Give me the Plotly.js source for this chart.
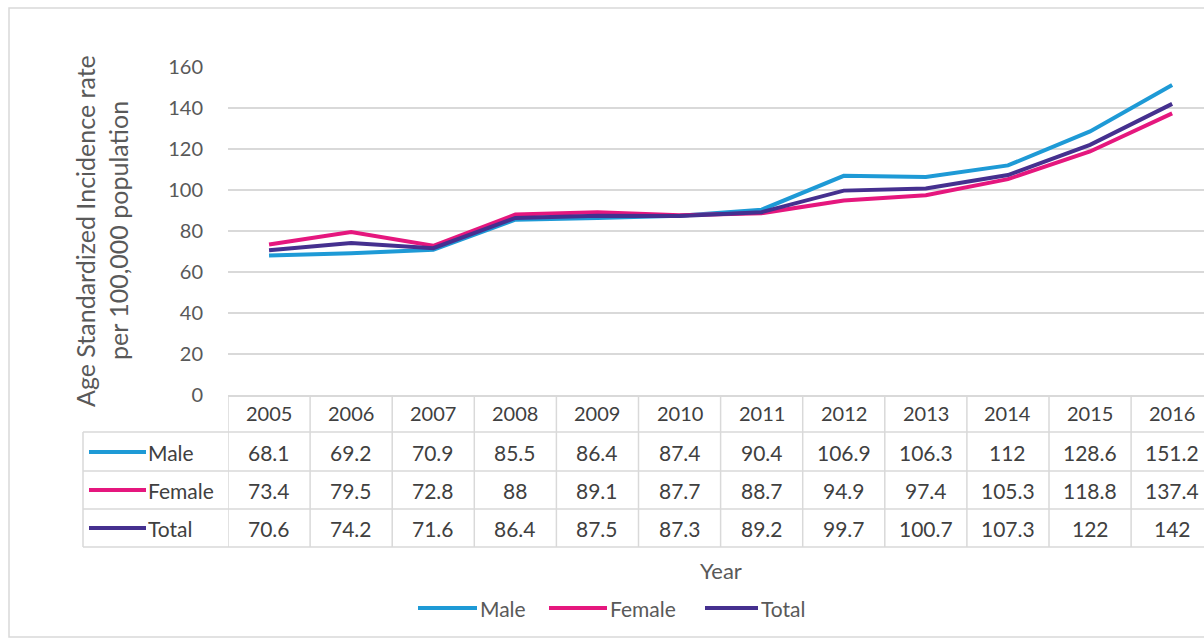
<!DOCTYPE html>
<html>
<head>
<meta charset="utf-8">
<script src="https://cdn.plot.ly/plotly-3.0.1.min.js"></script>
<style>html,body{margin:0;padding:0;background:#fff;}#chart{width:1204px;height:640px;}</style>
</head>
<body>
<div id="chart"></div>
<script>
const years = ["2005","2006","2007","2008","2009","2010","2011","2012","2013","2014","2015","2016"];
const male = [68.1, 69.2, 70.9, 85.5, 86.4, 87.4, 90.4, 106.9, 106.3, 112, 128.6, 151.2];
const female = [73.4, 79.5, 72.8, 88, 89.1, 87.7, 88.7, 94.9, 97.4, 105.3, 118.8, 137.4];
const total = [70.6, 74.2, 71.6, 86.4, 87.5, 87.3, 89.2, 99.7, 100.7, 107.3, 122, 142];
const seriesNames = ["Male", "Female", "Total"];
const seriesColors = ["#1E9AD6", "#E5177E", "#45308F"];
const seriesValues = [male, female, total];

// layout geometry (pixels)
const W = 1204, H = 640;
const L = 228, T = 67, B = 395;
const plotW = W - L, plotH = B - T;
const colW = 82.1;
const xr = [-0.5, -0.5 + plotW / colW];
const px = p => (p - L) / plotW;       // pixel x -> paper x
const py = p => (B - p) / plotH;       // pixel y -> paper y

const idx = years.map((y, i) => i);
const traces = seriesValues.map((vals, k) => ({
  x: idx, y: vals, type: "scatter", mode: "lines", name: seriesNames[k],
  line: {color: seriesColors[k], width: 4}, hoverinfo: "skip", showlegend: false
}));

const grid = "#D9D9D9";
const txt = "#404040";
const grey = "#595959";
const shapes = [];
const annotations = [];

// outer chart border
shapes.push({type: "rect", xref: "paper", yref: "paper", x0: px(9), x1: px(1212), y0: py(8), y1: py(637),
  line: {color: grid, width: 1.5}, fillcolor: "rgba(0,0,0,0)", layer: "below"});

// data table grid
const rowLines = [432, 471, 509, 547];
rowLines.forEach(r => {
  shapes.push({type: "line", xref: "paper", yref: "paper", x0: px(83), x1: 1, y0: py(r), y1: py(r),
    line: {color: grid, width: 1.5}});
});
for (let i = 0; i <= years.length; i++) {
  shapes.push({type: "line", xref: "x", yref: "paper", x0: i - 0.5, x1: i - 0.5, y0: 0, y1: py(547),
    line: {color: grid, width: 1.5}});
}
shapes.push({type: "line", xref: "paper", yref: "paper", x0: px(83), x1: px(83), y0: py(432), y1: py(547),
  line: {color: grid, width: 1.5}});

// header year labels
years.forEach((y, i) => {
  annotations.push({xref: "x", yref: "paper", x: i, y: py(413), text: y, showarrow: false,
    font: {size: 20, color: txt}, xanchor: "center", yanchor: "middle"});
});
// value rows with legend keys
const rowCenters = [452, 490, 528];
seriesValues.forEach((vals, k) => {
  vals.forEach((v, i) => {
    annotations.push({xref: "x", yref: "paper", x: i, y: py(rowCenters[k]), text: String(v), showarrow: false,
      font: {size: 21, color: txt}, xanchor: "center", yanchor: "middle"});
  });
  shapes.push({type: "line", xref: "paper", yref: "paper", x0: px(89), x1: px(146),
    y0: py(rowCenters[k]), y1: py(rowCenters[k]), line: {color: seriesColors[k], width: 4}});
  annotations.push({xref: "paper", yref: "paper", x: px(146), y: py(rowCenters[k]), text: seriesNames[k],
    showarrow: false, font: {size: 21, color: txt}, xanchor: "left", yanchor: "middle"});
});

// bottom legend
const legLine = [[418, 477], [549, 607], [705, 758]];
seriesNames.forEach((n, k) => {
  shapes.push({type: "line", xref: "paper", yref: "paper", x0: px(legLine[k][0]), x1: px(legLine[k][1]),
    y0: py(608), y1: py(608), line: {color: seriesColors[k], width: 4}});
  annotations.push({xref: "paper", yref: "paper", x: px(legLine[k][1] + 1), y: py(608), text: n,
    showarrow: false, font: {size: 21, color: grey}, xanchor: "left", yanchor: "middle"});
});

// axis titles
annotations.push({xref: "paper", yref: "paper", x: px(85), y: py(231), text: "Age Standardized Incidence rate",
  textangle: -90, showarrow: false, font: {size: 25, color: grey}, xanchor: "center", yanchor: "middle"});
annotations.push({xref: "paper", yref: "paper", x: px(118), y: py(231), text: "per 100,000 population",
  textangle: -90, showarrow: false, font: {size: 25, color: grey}, xanchor: "center", yanchor: "middle"});
annotations.push({xref: "x", yref: "paper", x: (years.length - 1) / 2, y: py(570), text: "Year",
  showarrow: false, font: {size: 22, color: grey}, xanchor: "center", yanchor: "middle"});

const layout = {
  width: W, height: H,
  margin: {l: L, r: 0, t: T, b: H - B, pad: 0},
  paper_bgcolor: "#fff", plot_bgcolor: "#fff",
  font: {family: "Lato, 'Open Sans', sans-serif", color: grey},
  xaxis: {range: xr, showticklabels: false, showgrid: false, zeroline: false,
    showline: true, linecolor: grid, linewidth: 1.5, fixedrange: true},
  yaxis: {range: [0, 160], dtick: 20, tick0: 0, showgrid: true, gridcolor: grid, gridwidth: 1.5,
    zeroline: false, showline: false, ticks: "", ticklabelstandoff: 24,
    tickfont: {size: 20, color: grey}, fixedrange: true},
  showlegend: false,
  shapes: shapes,
  annotations: annotations
};

Plotly.newPlot("chart", traces, layout, {displayModeBar: false, staticPlot: true});
</script>
</body>
</html>
